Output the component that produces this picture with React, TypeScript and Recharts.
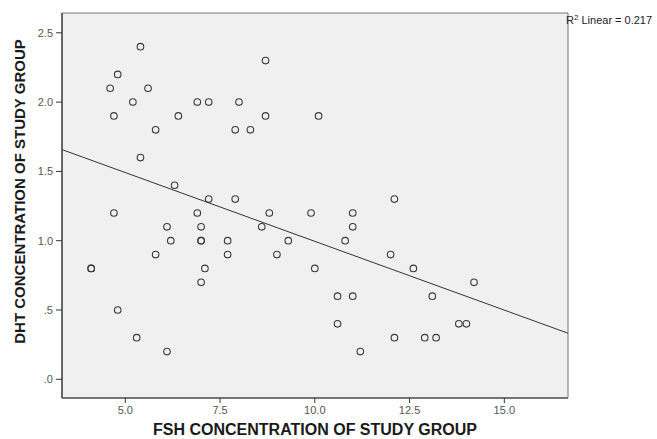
import React from 'react';
import {
  ScatterChart,
  Scatter,
  XAxis,
  YAxis,
  CartesianGrid,
  ReferenceArea,
  ReferenceLine,
  Label,
} from 'recharts';

// FSH concentration (x) of each subject
const fshValues = [
  5.4, 8.7, 4.8, 4.6, 5.6, 5.2, 6.9, 7.2, 8.0, 4.7,
  6.4, 8.7, 10.1, 5.8, 7.9, 8.3, 5.4, 6.3, 7.2, 7.9,
  12.1, 4.7, 6.9, 8.8, 9.9, 11.0, 6.1, 7.0, 8.6, 11.0,
  6.2, 7.0, 7.0, 7.7, 9.3, 10.8, 5.8, 7.7, 9.0, 12.0,
  4.1, 4.1, 7.1, 10.0, 12.6, 7.0, 14.2, 4.8, 10.6, 11.0,
  13.1, 10.6, 13.8, 14.0, 5.3, 12.1, 12.9, 13.2, 6.1, 11.2,
];

// DHT concentration (y) of each subject
const dhtValues = [
  2.4, 2.3, 2.2, 2.1, 2.1, 2.0, 2.0, 2.0, 2.0, 1.9,
  1.9, 1.9, 1.9, 1.8, 1.8, 1.8, 1.6, 1.4, 1.3, 1.3,
  1.3, 1.2, 1.2, 1.2, 1.2, 1.2, 1.1, 1.1, 1.1, 1.1,
  1.0, 1.0, 1.0, 1.0, 1.0, 1.0, 0.9, 0.9, 0.9, 0.9,
  0.8, 0.8, 0.8, 0.8, 0.8, 0.7, 0.7, 0.5, 0.6, 0.6,
  0.6, 0.4, 0.4, 0.4, 0.3, 0.3, 0.3, 0.3, 0.2, 0.2,
];

const xTicks = [5, 7.5, 10, 12.5, 15];
const yTicks = [0, 0.5, 1, 1.5, 2, 2.5];

const xAxisTitle = 'FSH CONCENTRATION OF STUDY GROUP';
const yAxisTitle = 'DHT CONCENTRATION OF STUDY GROUP';
const rSquaredValue = '0.217';

const X_DOMAIN: [number, number] = [3.33, 16.68];
const Y_DOMAIN: [number, number] = [-0.135, 2.643];

const data = fshValues.map((x, i) => ({ fsh: x, dht: dhtValues[i] }));

// least squares fit
const n = data.length;
const mx = fshValues.reduce((s, v) => s + v, 0) / n;
const my = dhtValues.reduce((s, v) => s + v, 0) / n;
let sxy = 0;
let sxx = 0;
for (let i = 0; i < n; i++) {
  sxy += (fshValues[i] - mx) * (dhtValues[i] - my);
  sxx += (fshValues[i] - mx) ** 2;
}
const slope = sxy / sxx;
const intercept = my - slope * mx;
const fitSegment = [
  { x: X_DOMAIN[0], y: intercept + slope * X_DOMAIN[0] },
  { x: X_DOMAIN[1], y: intercept + slope * X_DOMAIN[1] },
];

const FONT = '"Liberation Sans", Arial, Helvetica, sans-serif';

const fmtX = (v: number) => v.toFixed(1);
const fmtY = (v: number) => v.toFixed(1).replace(/^0/, '');

const Circle = (props: any) => {
  const { cx, cy } = props;
  if (cx == null || cy == null) return null;
  return <circle cx={cx} cy={cy} r={3.3} fill="none" stroke="#3a3a3a" strokeWidth={1.1} />;
};

const YTitle = (props: any) => {
  const vb = props.viewBox || { x: 0, y: 0, width: 0, height: 0 };
  const cy = vb.y + vb.height / 2 - 14;
  return (
    <text
      x={25}
      y={cy}
      transform={`rotate(-90, 25, ${cy})`}
      textAnchor="middle"
      fontFamily={FONT}
      fontWeight="bold"
      fontSize={15}
      fill="#1a1a1a"
    >
      {yAxisTitle}
    </text>
  );
};

const XTitle = (props: any) => {
  const vb = props.viewBox || { x: 0, y: 0, width: 0, height: 0 };
  return (
    <text
      x={vb.x + vb.width / 2}
      y={435}
      textAnchor="middle"
      fontFamily={FONT}
      fontWeight="bold"
      fontSize={16}
      fill="#1a1a1a"
    >
      {xAxisTitle}
    </text>
  );
};

export default function App() {
  return (
    <div style={{ position: 'absolute', left: 0, top: 0, width: 657, height: 439, background: '#fff' }}>
      <ScatterChart
        width={657}
        height={439}
        margin={{ top: 13, right: 89, bottom: 0, left: 0 }}
      >
        <CartesianGrid horizontal={false} vertical={false} fill="#f0f0f0" />
        <XAxis
          type="number"
          dataKey="fsh"
          domain={X_DOMAIN}
          allowDataOverflow
          ticks={xTicks}
          tickFormatter={fmtX}
          height={41}
          tickSize={5}
          tickMargin={3}
          stroke="#333"
          tick={{ fontSize: 11, fill: '#555', fontFamily: FONT }}
          axisLine={{ stroke: '#333', strokeWidth: 1.2 }}
          tickLine={{ stroke: '#333' }}
        >
          <Label content={<XTitle />} />
        </XAxis>
        <YAxis
          type="number"
          dataKey="dht"
          domain={Y_DOMAIN}
          allowDataOverflow
          ticks={yTicks}
          tickFormatter={fmtY}
          width={62}
          tickSize={6}
          tickMargin={3}
          stroke="#333"
          tick={{ fontSize: 11, fill: '#555', fontFamily: FONT }}
          axisLine={{ stroke: '#333', strokeWidth: 1.2 }}
          tickLine={{ stroke: '#333' }}
        >
          <Label content={<YTitle />} />
        </YAxis>
        <ReferenceArea
          x1={X_DOMAIN[0]}
          x2={X_DOMAIN[1]}
          y1={Y_DOMAIN[0]}
          y2={Y_DOMAIN[1]}
          fill="none"
          stroke="#777"
          strokeWidth={1}
          ifOverflow="visible"
        />
        <ReferenceLine
          segment={fitSegment}
          stroke="#333"
          strokeWidth={1}
          ifOverflow="visible"
        />
        <Scatter data={data} shape={<Circle />} isAnimationActive={false} />
      </ScatterChart>
      <div
        style={{
          position: 'absolute',
          left: 566,
          top: 14,
          fontFamily: FONT,
          fontSize: 11,
          color: '#222',
          whiteSpace: 'nowrap',
          lineHeight: '12px',
        }}
      >
        R<sup style={{ fontSize: 8, verticalAlign: 'top', lineHeight: '8px' }}>2</sup> Linear = {rSquaredValue}
      </div>
    </div>
  );
}
